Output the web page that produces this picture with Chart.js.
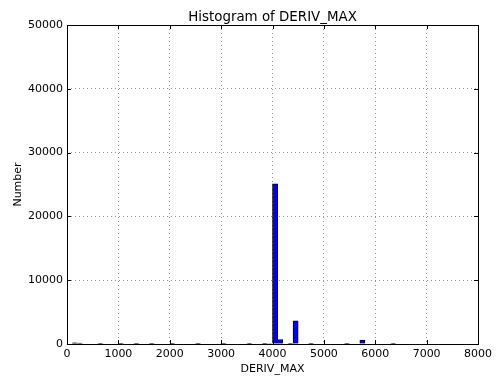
<!DOCTYPE html>
<html>
<head>
<meta charset="utf-8">
<script src="https://cdn.jsdelivr.net/npm/chart.js@4/dist/chart.umd.min.js"></script>
<style>
  html, body { margin: 0; padding: 0; background: #fff; }
  #wrap { width: 496px; height: 377px; }
</style>
</head>
<body>
<div id="wrap"><canvas id="hist"></canvas></div>
<script>
// histogram bins: 100 wide, 0 .. 8000
var binStart = 0
var binWidth = 100
var counts = [
  0, 200, 150, 0, 0, 0, 30, 0, 0, 0,
  20, 0, 0, 30, 0, 0, 20, 0, 0, 0,
  20, 0, 0, 0, 0, 40, 0, 0, 0, 0,
  50, 0, 0, 0, 0, 40, 0, 0, 30, 80,
  25100, 700, 0, 60, 3650, 0, 0, 20, 0, 0,
  0, 0, 0, 0, 40, 0, 0, 600, 0, 0,
  0, 0, 0, 40, 0, 0, 0, 0, 0, 0,
  0, 0, 0, 0, 0, 0, 0, 0, 0, 0
]
var xTicks = [0, 1000, 2000, 3000, 4000, 5000, 6000, 7000, 8000]
var yTicks = [0, 10000, 20000, 30000, 40000, 50000]

var points = counts.map(function (c, i) {
  return { x: binStart + binWidth * i + binWidth / 2, y: c }
})

// matplotlib-style frame and inward ticks
var frameTicks = {
  id: 'frameTicks',
  afterDraw: function (chart) {
    var ctx = chart.ctx
    var a = chart.chartArea
    var xs = chart.scales.x
    var ys = chart.scales.y
    ctx.save()
    ctx.strokeStyle = '#000'
    ctx.lineWidth = 1
    ctx.beginPath()
    xTicks.forEach(function (v) {
      var px = Math.round(xs.getPixelForValue(v)) + 0.5
      ctx.moveTo(px, a.bottom); ctx.lineTo(px, a.bottom - 4)
      ctx.moveTo(px, a.top); ctx.lineTo(px, a.top + 4)
    })
    yTicks.forEach(function (v) {
      var py = Math.round(ys.getPixelForValue(v)) + 0.5
      ctx.moveTo(a.left, py); ctx.lineTo(a.left + 4, py)
      ctx.moveTo(a.right, py); ctx.lineTo(a.right - 4, py)
    })
    ctx.stroke()
    ctx.strokeRect(Math.round(a.left) + 0.5, Math.round(a.top) + 0.5,
      Math.round(a.right - a.left), Math.round(a.bottom - a.top))
    ctx.restore()
  }
}

new Chart(document.getElementById('hist'), {
  type: 'bar',
  data: {
    datasets: [{
      label: 'DERIV_MAX',
      data: points,
      backgroundColor: '#0000ff',
      borderColor: '#000',
      borderWidth: 1,
      barPercentage: 1,
      categoryPercentage: 1
    }]
  },
  options: {
    responsive: true,
    maintainAspectRatio: false,
    animation: false,
    layout: { padding: { left: 0, right: 18, top: 0, bottom: 0 } },
    font: { family: 'DejaVu Sans' },
    plugins: {
      legend: { display: false },
      tooltip: { enabled: false },
      title: {
        display: true,
        text: 'Histogram of DERIV_MAX',
        fullSize: false,
        color: '#000',
        font: { family: 'DejaVu Sans', size: 13.4, weight: 'normal', lineHeight: 1 },
        padding: { top: 11.1, bottom: 0.5 }
      }
    },
    scales: {
      x: {
        type: 'linear',
        min: 0,
        max: 8000,
        offset: false,
        afterFit: function (s) { s.height = 33 },
        afterBuildTicks: function (s) { s.ticks = xTicks.map(function (v) { return { value: v } }) },
        ticks: {
          color: '#000',
          padding: 4,
          maxRotation: 0,
          font: { family: 'DejaVu Sans', size: 11 },
          callback: function (v) { return String(v) }
        },
        grid: { color: '#999', offset: false, drawTicks: false, tickLength: 0 },
        border: { display: false, dash: [1, 3] },
        title: {
          display: true,
          text: 'DERIV_MAX',
          color: '#000',
          font: { family: 'DejaVu Sans', size: 11 },
          padding: { top: 0, bottom: 1.4 }
        }
      },
      y: {
        min: 0,
        max: 50000,
        afterFit: function (s) { s.width = 67 },
        afterBuildTicks: function (s) { s.ticks = yTicks.map(function (v) { return { value: v } }) },
        ticks: {
          color: '#000',
          padding: 4,
          font: { family: 'DejaVu Sans', size: 11 },
          callback: function (v) { return String(v) }
        },
        grid: { color: '#999', drawTicks: false, tickLength: 0 },
        border: { display: false, dash: [1, 3] },
        title: {
          display: true,
          text: 'Number',
          color: '#000',
          font: { family: 'DejaVu Sans', size: 11 },
          padding: { top: 11.4, bottom: 0 }
        }
      }
    }
  },
  plugins: [frameTicks]
})
</script>
</body>
</html>
